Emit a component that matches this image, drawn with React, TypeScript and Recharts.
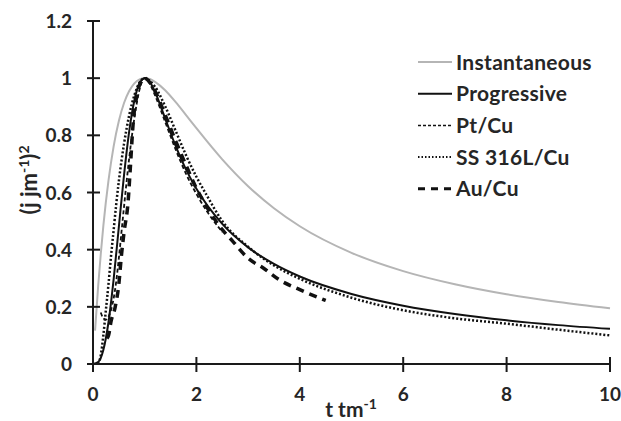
import React from 'react';
import { LineChart, Line, XAxis, YAxis } from 'recharts';

// ---- data ----
const xTicks = [0, 2, 4, 6, 8, 10];
const yTicks = [0, 0.2, 0.4, 0.6, 0.8, 1, 1.2];

const tInst = [0.04, 0.1, 0.15, 0.2, 0.3, 0.4, 0.5, 0.6, 0.7, 0.8, 0.9, 1.0, 1.1, 1.2, 1.4, 1.6, 1.8, 2.0, 2.5, 3, 3.5, 4, 5, 6, 7, 8, 9, 10];
const vInst = [0.117, 0.273, 0.384, 0.483, 0.642, 0.762, 0.85, 0.913, 0.955, 0.982, 0.996, 1.0, 0.997, 0.987, 0.957, 0.916, 0.871, 0.825, 0.716, 0.622, 0.545, 0.482, 0.389, 0.325, 0.279, 0.244, 0.217, 0.195];

const tProg = [0, 0.1, 0.2, 0.3, 0.4, 0.5, 0.6, 0.7, 0.8, 0.9, 1.0, 1.1, 1.2, 1.4, 1.6, 1.8, 2.0, 2.5, 3, 3.5, 4, 5, 6, 7, 8, 9, 10];
const vProg = [0, 0.007, 0.049, 0.147, 0.298, 0.48, 0.661, 0.814, 0.922, 0.982, 1.0, 0.986, 0.952, 0.857, 0.762, 0.68, 0.613, 0.49, 0.408, 0.35, 0.306, 0.245, 0.204, 0.175, 0.153, 0.136, 0.123];

const tPt = [0.15, 0.2, 0.25, 0.3, 0.35, 0.4, 0.45, 0.5, 0.55, 0.6, 0.7, 0.8, 0.9, 1.0, 1.1, 1.2, 1.4, 1.6, 1.8, 2.0, 2.2, 2.4, 2.5];
const vPt = [0.18, 0.16, 0.155, 0.165, 0.19, 0.23, 0.29, 0.37, 0.46, 0.55, 0.72, 0.86, 0.96, 1.0, 0.98, 0.94, 0.845, 0.75, 0.665, 0.595, 0.535, 0.485, 0.462];

const tSS = [0.1, 0.15, 0.2, 0.25, 0.3, 0.35, 0.4, 0.45, 0.5, 0.6, 0.7, 0.8, 0.9, 1.0, 1.1, 1.2, 1.4, 1.6, 1.8, 2.0, 2.2, 2.5, 3, 3.5, 4, 5, 6, 7, 8, 9, 10];
const vSS = [0.0, 0.03, 0.1, 0.19, 0.28, 0.38, 0.47, 0.56, 0.64, 0.77, 0.87, 0.94, 0.985, 1.0, 0.99, 0.97, 0.9, 0.815, 0.73, 0.655, 0.59, 0.5, 0.41, 0.345, 0.298, 0.232, 0.188, 0.16, 0.141, 0.12, 0.1];

const tAu = [0.27, 0.3, 0.35, 0.43, 0.5, 0.55, 0.6, 0.68, 0.72, 0.78, 0.85, 0.92, 1.0, 1.1, 1.2, 1.4, 1.6, 1.8, 2.0, 2.2, 2.5, 2.7, 3.0, 3.3, 3.6, 4.0, 4.5];
const vAu = [0.09, 0.1, 0.15, 0.2, 0.28, 0.38, 0.46, 0.57, 0.68, 0.85, 0.94, 0.985, 1.0, 0.985, 0.955, 0.87, 0.78, 0.695, 0.615, 0.55, 0.47, 0.43, 0.37, 0.335, 0.295, 0.26, 0.222];

const seriesNames = ['Instantaneous', 'Progressive', 'Pt/Cu', 'SS 316L/Cu', 'Au/Cu'];

const toData = (ts: number[], vs: number[]) => ts.map((t, i) => ({ t, v: vs[i] }));

const FONT = 'Lato, "Open Sans", sans-serif';
const TEXT = '#262626';
const AXIS = '#1a1a1a';

const styles = [
  { stroke: '#b5b5b5', strokeWidth: 2, dash: undefined as string | undefined },
  { stroke: '#111', strokeWidth: 2, dash: undefined },
  { stroke: '#111', strokeWidth: 1.8, dash: '4 2.5' },
  { stroke: '#111', strokeWidth: 2.5, dash: '2 2' },
  { stroke: '#111', strokeWidth: 3.5, dash: '8 6' },
];

const seriesData = [
  toData(tInst, vInst),
  toData(tProg, vProg),
  toData(tPt, vPt),
  toData(tSS, vSS),
  toData(tAu, vAu),
];

const Y_TICK_SIZE = 6;
const Y_TICK_MARGIN = 15;
const X_TICK_SIZE = 8;
const X_TICK_MARGIN = 4;

const YTick = (props: any) => {
  const { x, y, payload } = props;
  const ax = x + Y_TICK_SIZE + Y_TICK_MARGIN;
  return (
    <g>
      <line x1={ax - 6} x2={ax + 7} y1={y} y2={y} stroke={AXIS} strokeWidth={2} />
      <text x={x} y={y + 7} textAnchor="end" fontFamily={FONT} fontWeight={700} fontSize={19} fill={TEXT}>
        {String(payload.value)}
      </text>
    </g>
  );
};

const XTick = (props: any) => {
  const { x, y, payload } = props;
  const ay = y - X_TICK_SIZE - X_TICK_MARGIN;
  return (
    <g>
      <line x1={x} x2={x} y1={ay - 7} y2={ay + 8} stroke={AXIS} strokeWidth={2} />
      <text x={x} y={ay + 37} textAnchor="middle" fontFamily={FONT} fontWeight={700} fontSize={19} fill={TEXT}>
        {String(payload.value)}
      </text>
    </g>
  );
};

const LegendBox = () => (
  <svg width={215} height={160} style={{ position: 'absolute', left: 406, top: 40 }}>
    {seriesNames.map((name, i) => {
      const s = styles[i];
      const cy = 22 + i * 31.7;
      return (
        <g key={name}>
          <line
            x1={12}
            x2={46}
            y1={cy}
            y2={cy}
            stroke={s.stroke}
            strokeWidth={i === 4 ? 3 : i === 2 ? 1.5 : 2}
            strokeDasharray={i === 2 ? '3 2' : i === 3 ? '1.5 2' : i === 4 ? '7 6' : undefined}
          />
          <text x={50} y={cy + 7.5} fontFamily={FONT} fontWeight={700} fontSize={21} letterSpacing={0.3} fill={TEXT}>
            {name}
          </text>
        </g>
      );
    })}
  </svg>
);

export default function App() {
  return (
    <div style={{ position: 'absolute', left: 0, top: 0, width: 621, height: 421, background: '#fff' }}>
      <LineChart width={621} height={421} margin={{ top: 21, right: 11, left: 33, bottom: 27 }}>
        <XAxis
          dataKey="t"
          type="number"
          domain={[0, 10]}
          ticks={xTicks}
          interval={0}
          allowDuplicatedCategory={false}
          axisLine={{ stroke: AXIS, strokeWidth: 2 }}
          tickLine={false}
          tickSize={X_TICK_SIZE}
          tickMargin={X_TICK_MARGIN}
          tick={<XTick />}
          height={30}
        />
        <YAxis
          type="number"
          domain={[0, 1.2]}
          ticks={yTicks}
          interval={0}
          axisLine={{ stroke: AXIS, strokeWidth: 2 }}
          tickLine={false}
          tickSize={Y_TICK_SIZE}
          tickMargin={Y_TICK_MARGIN}
          tick={<YTick />}
          width={60}
        />
        {seriesData.map((d, i) => (
          <Line
            key={seriesNames[i]}
            data={d}
            dataKey="v"
            name={seriesNames[i]}
            type="monotone"
            stroke={styles[i].stroke}
            strokeWidth={styles[i].strokeWidth}
            strokeDasharray={styles[i].dash}
            dot={false}
            activeDot={false}
            isAnimationActive={false}
          />
        ))}
      </LineChart>
      <svg width={621} height={421} style={{ position: 'absolute', left: 0, top: 0, pointerEvents: 'none' }}>
        <text x={351} y={417} textAnchor="middle" fontFamily={FONT} fontWeight={700} fontSize={21} fill={TEXT}>
          t tm<tspan dy={-8} fontSize={14}>-1</tspan>
        </text>
        <text
          x={37}
          y={180}
          transform="rotate(-90 37 180)"
          textAnchor="middle"
          fontFamily={FONT}
          fontWeight={700}
          fontSize={22}
          fill={TEXT}
        >
          (j jm<tspan dy={-8} fontSize={14}>-1</tspan>
          <tspan dy={8}>)</tspan>
          <tspan dy={-8} fontSize={14}>2</tspan>
        </text>
      </svg>
      <LegendBox />
    </div>
  );
}
